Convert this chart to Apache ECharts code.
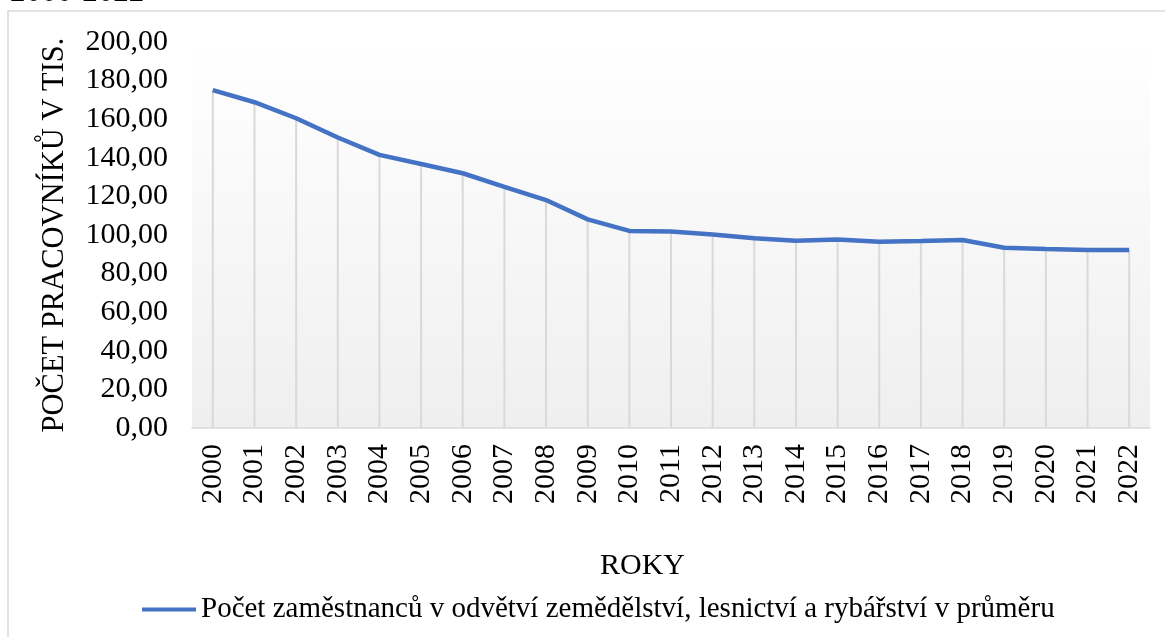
<!DOCTYPE html>
<html>
<head>
<meta charset="utf-8">
<script src="https://cdn.jsdelivr.net/npm/echarts@6/dist/echarts.min.js"></script>
<style>
  html, body { margin: 0; padding: 0; background: #fff; }
  #chart { width: 1165px; height: 637px; }
</style>
</head>
<body>
<div id="chart"></div>
<script>
const years = ['2000', '2001', '2002', '2003', '2004', '2005', '2006', '2007', '2008', '2009', '2010',
  '2011', '2012', '2013', '2014', '2015', '2016', '2017', '2018', '2019', '2020', '2021', '2022']
const workers = [175.1, 168.8, 160.5, 150.5, 141.5, 136.8, 132.0, 124.9, 118.1, 108.1, 102.1,
  101.8, 100.3, 98.3, 97.0, 97.7, 96.5, 96.9, 97.4, 93.4, 92.7, 92.2, 92.2]
const seriesName = 'Počet zaměstnanců v odvětví zemědělství, lesnictví a rybářství v průměru'
const yTitle = 'POČET PRACOVNÍKŮ V TIS.'
const xTitle = 'ROKY'
const cutTitle = '2000-2022'

const font = 'Liberation Serif'
const chart = echarts.init(document.getElementById('chart'))

const option = {
  animation: false,
  textStyle: { fontFamily: font, color: '#000' },
  grid: {
    left: 192,
    right: 15,
    top: 42,
    bottom: 209,
    show: true,
    borderWidth: 0,
    backgroundColor: new echarts.graphic.LinearGradient(0, 0, 0, 1, [
      { offset: 0, color: '#ffffff' },
      { offset: 1, color: '#efefef' },
    ]),
  },
  legend: {
    left: 137,
    top: 590,
    itemWidth: 54,
    itemHeight: 4,
    itemGap: 4,
    textStyle: { fontFamily: font, fontSize: 29, color: '#000' },
    data: [{ name: seriesName, icon: 'rect' }],
  },
  graphic: [
    {
      type: 'rect',
      shape: { x: 8, y: 11, width: 1300, height: 800 },
      style: { fill: 'none', stroke: '#d9d9d9', lineWidth: 1.5 },
      silent: true,
    },
    {
      type: 'text',
      left: 10,
      top: -23,
      style: { text: cutTitle, font: '31px "Liberation Serif"', fill: '#000' },
    },
    {
      type: 'text',
      left: 600,
      top: 551,
      style: { text: xTitle, font: '30px "Liberation Serif"', fill: '#000' },
    },
  ],
  xAxis: {
    type: 'category',
    data: years,
    axisLine: { lineStyle: { color: '#d9d9d9', width: 1.5 } },
    axisTick: { show: false },
    axisLabel: { rotate: 90, fontSize: 30, color: '#000', margin: 16, fontFamily: font },
    splitLine: { show: false },
  },
  yAxis: {
    type: 'value',
    min: 0,
    max: 200,
    interval: 20,
    name: yTitle,
    nameLocation: 'middle',
    nameGap: 122,
    nameTextStyle: { fontSize: 30.5, color: '#000', fontFamily: font },
    axisLine: { show: false },
    axisTick: { show: false },
    splitLine: { show: false },
    axisLabel: {
      fontSize: 30,
      color: '#000',
      margin: 24,
      fontFamily: font,
      formatter: v => v.toFixed(2).replace('.', ','),
    },
  },
  series: [
    {
      name: 'drop',
      type: 'bar',
      data: workers,
      barWidth: 2,
      silent: true,
      itemStyle: { color: '#d9d9d9' },
      z: 1,
    },
    {
      name: seriesName,
      type: 'line',
      data: workers,
      symbol: 'none',
      lineStyle: { color: '#4472c4', width: 4.5 },
      itemStyle: { color: '#4472c4' },
      z: 3,
    },
  ],
}
chart.setOption(option)
</script>
</body>
</html>
